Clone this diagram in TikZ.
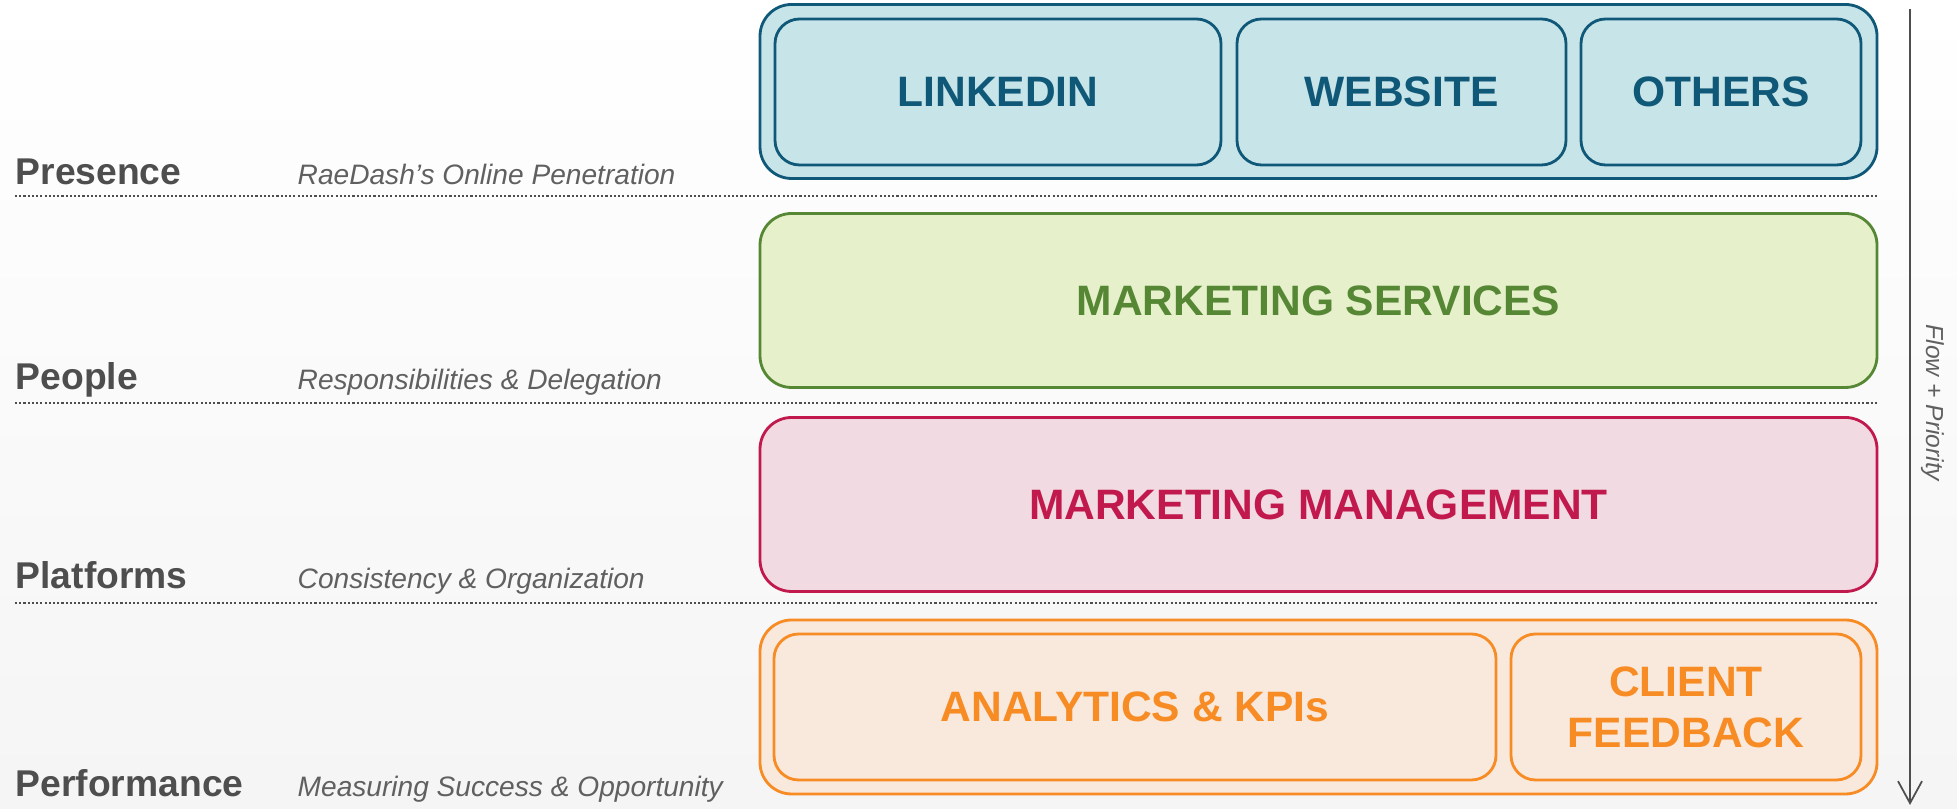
\documentclass[tikz,border=0pt]{standalone}
\usepackage{fontspec}
\setmainfont{Liberation Sans}
\usepackage{tikz}
\usetikzlibrary{arrows.meta,positioning}
\usepackage{xcolor}
\definecolor{pblue}{RGB}{15,88,120}
\definecolor{pbluefill}{RGB}{199,228,233}
\definecolor{pgreen}{RGB}{86,135,52}
\definecolor{pgreenfill}{RGB}{230,241,203}
\definecolor{ppink}{RGB}{193,25,77}
\definecolor{ppinkfill}{RGB}{241,218,225}
\definecolor{porange}{RGB}{247,139,36}
\definecolor{porangefill}{RGB}{249,232,220}
\definecolor{labgray}{RGB}{78,78,78}

\begin{document}
\begin{tikzpicture}[
    layer/.style={draw, rounded corners=9pt, line width=0.8pt, minimum width=11.17cm,
                  minimum height=1.74cm},
    tile/.style={draw, rounded corners=7pt, line width=0.8pt, minimum height=1.46cm,
                 font=\fontsize{12.1}{14.5}\selectfont\bfseries, align=center},
    title/.style={anchor=base west, inner sep=0pt, font=\fontsize{10.6}{12}\selectfont\bfseries, text=labgray},
    sub/.style={anchor=base west, inner sep=0pt, font=\fontsize{8}{10}\selectfont\itshape, text=labgray!90},
    sep/.style={labgray, line width=0.7pt, dash pattern=on 0.6pt off 0.6pt}
]

% Page and background
\useasboundingbox (0,0) rectangle (19.57,8.09);
\shade[top color=white, bottom color=gray!8] (0,0) rectangle (19.57,8.09);

% Presence
\node[layer, draw=pblue, fill=pbluefill] (presence) at (13.185,7.175) {};
\node[tile, draw=pblue, fill=pbluefill, text=pblue, minimum width=4.46cm] (linkedin) at (9.98,7.17) {LINKEDIN};
\node[tile, draw=pblue, fill=pbluefill, text=pblue, minimum width=3.29cm] (website) at (14.015,7.17) {WEBSITE};
\node[tile, draw=pblue, fill=pbluefill, text=pblue, minimum width=2.80cm] (others) at (17.21,7.17) {OTHERS};

% People
\node[layer, draw=pgreen, fill=pgreenfill, text=pgreen, font=\fontsize{12.1}{14.5}\selectfont\bfseries]
    (people) at (13.185,5.085) {MARKETING SERVICES};

% Platforms
\node[layer, draw=ppink, fill=ppinkfill, text=ppink, font=\fontsize{12.1}{14.5}\selectfont\bfseries]
    (platforms) at (13.185,3.045) {MARKETING MANAGEMENT};

% Performance
\node[layer, draw=porange, fill=porangefill] (performance) at (13.185,1.02) {};
\node[tile, draw=porange, fill=porangefill, text=porange, minimum width=7.22cm] (analytics) at (11.35,1.02) {ANALYTICS \& KPIs};
\node[tile, draw=porange, fill=porangefill, text=porange, minimum width=3.50cm] (client) at (16.86,1.02) {CLIENT\\FEEDBACK};

% Row labels
\node[title] (t1) at (0.15,6.24) {Presence};
\node[sub] (s1) at (2.97,6.24) {RaeDash’s Online Penetration};
\node[title] (t2) at (0.15,4.19) {People};
\node[sub] (s2) at (2.97,4.19) {Responsibilities \& Delegation};
\node[title] (t3) at (0.15,2.20) {Platforms};
\node[sub] (s3) at (2.97,2.20) {Consistency \& Organization};
\node[title] (t4) at (0.15,0.12) {Performance};
\node[sub] (s4) at (2.97,0.12) {Measuring Success \& Opportunity};

% Dotted separators
\foreach \y in {6.13,4.06,2.06}
    \draw[sep] (0.15,\y) -- (18.77,\y);

% Flow arrow
\coordinate (flowtop) at (19.10,8.00);
\coordinate (flowend) at (19.10,0.04);
\draw[labgray, line width=0.5pt, -{Straight Barb[length=2.2mm, width=2.4mm]}] (flowtop) -- (flowend);
\node[font=\fontsize{7}{9}\selectfont\itshape, text=labgray!90, rotate=-90] (flow) at (19.33,4.06) {Flow + Priority};

\end{tikzpicture}
\end{document}
